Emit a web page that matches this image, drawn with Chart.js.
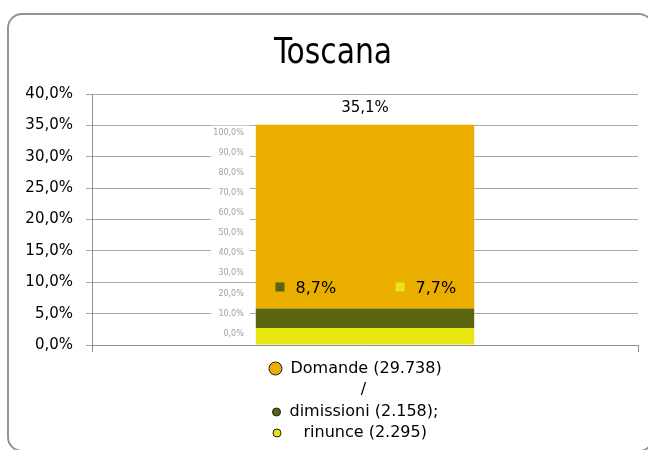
<!DOCTYPE html>
<html>
<head>
<meta charset="utf-8">
<script src="https://cdn.jsdelivr.net/npm/chart.js@4.4.1/dist/chart.umd.min.js"></script>
<style>
  html, body { margin: 0; padding: 0; background: #fff; overflow: hidden; }
  #chart { display: block; }
</style>
</head>
<body>
<canvas id="chart" width="648" height="450"></canvas>
<script>
// valori (% sul totale)
const regione = ['Toscana'];
const rinunce = [2.7];
const dimissioni = [3.1];
const domande = [29.3];
const totale = [35.1];
// quote interne (scala 0-100%)
const quotaDimissioni = [8.7];
const quotaRinunce = [7.7];
const innerTicks = [0, 10, 20, 30, 40, 50, 60, 70, 80, 90, 100];
const legendLabels = ['Domande (29.738)', 'dimissioni (2.158);', 'rinunce (2.295)'];

const colors = { domande: '#E9AE00', dimissioni: '#5A6510', rinunce: '#E8E510' };
const FONT = '"DejaVu Sans", sans-serif';

function fmt(v) {
    return Number(v).toFixed(1).replace('.', ',') + '%';
}

// cornice arrotondata (esce a destra e in basso)
const frame = {
    id: 'frame',
    beforeDraw(chart) {
        const ctx = chart.ctx;
        ctx.save();
        ctx.fillStyle = '#fff';
        ctx.fillRect(0, 0, chart.width, chart.height);
        ctx.beginPath();
        ctx.roundRect(8, 14, 645, 437, 14);
        ctx.lineWidth = 2;
        ctx.strokeStyle = '#939393';
        ctx.stroke();
        ctx.restore();
    }
};

const overlay = {
    id: 'overlay',
    afterDatasetsDraw(chart) {
        const ctx = chart.ctx;
        const yIn = chart.scales.yInner;
        const bar = chart.getDatasetMeta(2).data[0];
        const left = bar.x - bar.width / 2;
        ctx.save();

        // titolo
        ctx.save();
        ctx.translate(333, 63);
        ctx.scale(0.92, 1);
        ctx.font = '36px "DejaVu Sans Condensed", "DejaVu Sans", sans-serif';
        ctx.textAlign = 'center';
        ctx.textBaseline = 'alphabetic';
        ctx.fillStyle = '#000';
        ctx.fillText(regione[0], 0, 0);
        ctx.restore();

        // asse interno 0-100%
        ctx.font = '8px ' + FONT;
        ctx.textAlign = 'right';
        ctx.textBaseline = 'middle';
        innerTicks.forEach(v => {
            const y = yIn.getPixelForValue(v);
            ctx.fillStyle = '#fff';
            ctx.fillRect(left - 45, y - 7, 39, 14);
            ctx.fillStyle = '#a0a0a0';
            ctx.fillText(fmt(v), left - 12, y);
        });

        // etichette quote
        ctx.font = '16px ' + FONT;
        ctx.textAlign = 'left';
        const yLab = yIn.getPixelForValue(23);
        [[quotaDimissioni[0], colors.dimissioni, 0.09], [quotaRinunce[0], colors.rinunce, 0.64]].forEach(item => {
            const x = left + bar.width * item[2];
            ctx.fillStyle = item[1];
            ctx.fillRect(x, yLab - 5, 9, 9);
            ctx.fillStyle = '#000';
            ctx.fillText(fmt(item[0]), x + 20, yLab + 1);
        });

        // totale sopra la barra
        ctx.font = '15px ' + FONT;
        ctx.textAlign = 'center';
        ctx.fillText(fmt(totale[0]), bar.x, bar.y - 17);

        // legenda
        const cx = bar.x;
        const top = chart.chartArea.bottom;
        const dot = (x, y, r, c) => {
            ctx.beginPath();
            ctx.arc(x, y, r, 0, Math.PI * 2);
            ctx.fillStyle = c;
            ctx.fill();
            ctx.lineWidth = 1;
            ctx.strokeStyle = '#222';
            ctx.stroke();
        };
        ctx.font = '16px ' + FONT;
        ctx.textAlign = 'left';
        dot(cx - 89.5, top + 23.5, 6.5, colors.domande);
        ctx.fillStyle = '#000';
        ctx.fillText(legendLabels[0], cx - 74.5, top + 24);
        ctx.textAlign = 'center';
        ctx.fillText('/', cx - 1.5, top + 45);
        ctx.textAlign = 'left';
        dot(cx - 88.5, top + 67, 4, colors.dimissioni);
        ctx.fillStyle = '#000';
        ctx.fillText(legendLabels[1], cx - 75.5, top + 67);
        dot(cx - 88, top + 88, 4, colors.rinunce);
        ctx.fillStyle = '#000';
        ctx.fillText(legendLabels[2], cx - 61.5, top + 88);

        ctx.restore();
    }
};

new Chart(document.getElementById('chart'), {
    type: 'bar',
    data: {
        labels: regione,
        datasets: [
            { label: legendLabels[2], data: rinunce, backgroundColor: colors.rinunce },
            { label: legendLabels[1], data: dimissioni, backgroundColor: colors.dimissioni },
            { label: legendLabels[0], data: domande, backgroundColor: colors.domande }
        ]
    },
    options: {
        responsive: false,
        animation: false,
        layout: { padding: { top: 94, left: 8, right: 10, bottom: 98 } },
        datasets: { bar: { barPercentage: 0.4, categoryPercentage: 1 } },
        plugins: {
            legend: { display: false },
            tooltip: { enabled: false },
            title: { display: false }
        },
        scales: {
            x: {
                stacked: true,
                offset: true,
                ticks: { display: false },
                grid: { offset: true, drawOnChartArea: false, tickLength: 7, color: '#909090' },
                border: { color: '#909090' }
            },
            y: {
                stacked: true,
                min: 0,
                max: 40,
                afterFit: s => { s.width = 84; },
                ticks: { stepSize: 5, padding: 13, color: '#000', font: { family: FONT, size: 15 }, callback: fmt },
                grid: { color: '#a8a8a8', tickLength: 6 },
                border: { color: '#909090' }
            },
            yInner: { type: 'linear', axis: 'y', display: false, min: -5.6, max: 119.2 }
        }
    },
    plugins: [frame, overlay]
});
</script>
</body>
</html>
